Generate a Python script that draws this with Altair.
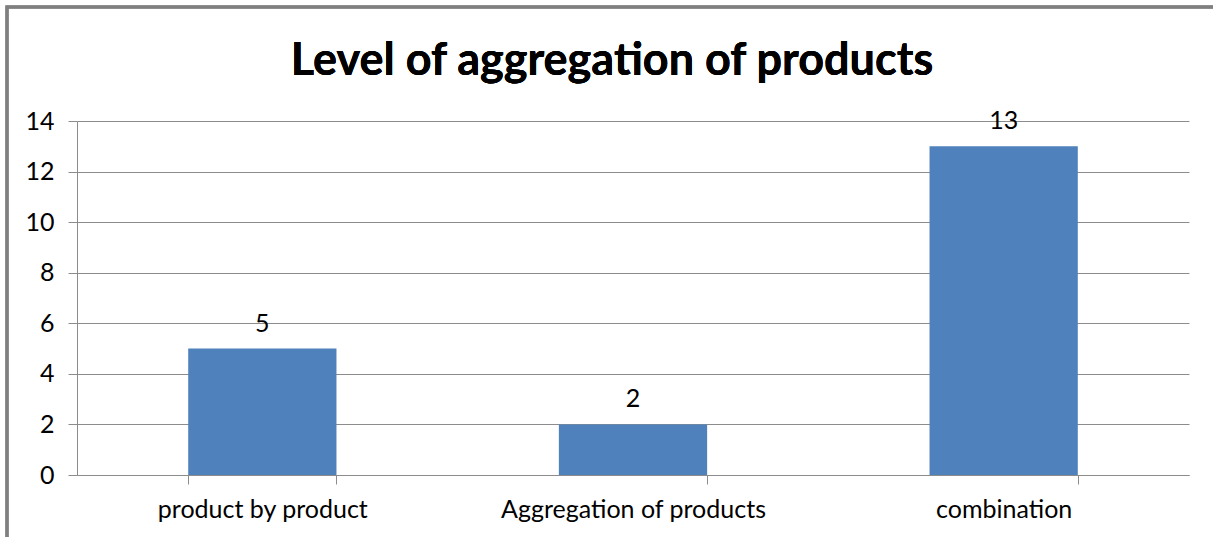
import altair as alt
import pandas as pd

# Number of responses per level of product aggregation
categories = ["product by product", "Aggregation of products", "combination"]
counts = [5, 2, 13]

df = pd.DataFrame({"category": categories, "count": counts})

W, H = 1112, 354
FONT = "Lato"
GRAY = "#8c8c8c"

base = alt.Chart(df)

x_enc = alt.X(
    "category:N",
    sort=categories,
    title=None,
    scale=alt.Scale(paddingInner=0.6, paddingOuter=0.3),
    axis=alt.Axis(
        labelAngle=0,
        labelFontSize=25,
        labelFont=FONT,
        labelColor="#000000",
        labelPadding=13,
        labelLimit=0,
        tickBand="extent",
        tickSize=9,
        tickColor=GRAY,
        domainColor=GRAY,
        grid=False,
    ),
)
y_enc = alt.Y(
    "count:Q",
    title=None,
    scale=alt.Scale(domain=[0, 14], nice=False),
    axis=alt.Axis(
        values=[0, 2, 4, 6, 8, 10, 12, 14],
        labelFontSize=25,
        labelFont=FONT,
        labelColor="#000000",
        labelPadding=14,
        tickSize=9,
        tickColor=GRAY,
        domainColor=GRAY,
        gridColor=GRAY,
        gridWidth=1,
    ),
)

bars = base.mark_bar(color="#4F81BD").encode(x=x_enc, y=y_enc)

labels = base.mark_text(
    baseline="alphabetic", dy=-17, fontSize=25, font=FONT, color="#000000", clip=False
).encode(x=alt.X("category:N", sort=categories), y="count:Q", text="count:Q")

title = base.mark_text(
    text="Level of aggregation of products",
    fontSize=45,
    fontWeight="bold",
    font=FONT,
    color="#000000",
    align="center",
    baseline="alphabetic",
).encode(x=alt.value(535), y=alt.value(-46))

frame = base.mark_rect(
    fill=None, stroke="#7f7f7f", strokeWidth=3
).encode(
    x=alt.value(-70), x2=alt.value(W + 60), y=alt.value(-114), y2=alt.value(H + 100)
)

chart = (
    alt.layer(frame, bars, labels, title)
    .properties(
        width=W,
        height=H,
        autosize=alt.AutoSizeParams(type="none"),
        padding={"left": 77, "top": 121, "right": 24, "bottom": 62},
        background="white",
    )
    .configure_view(stroke=None)
)

chart.save("out.html", embed_options={"renderer": "svg", "actions": False})
